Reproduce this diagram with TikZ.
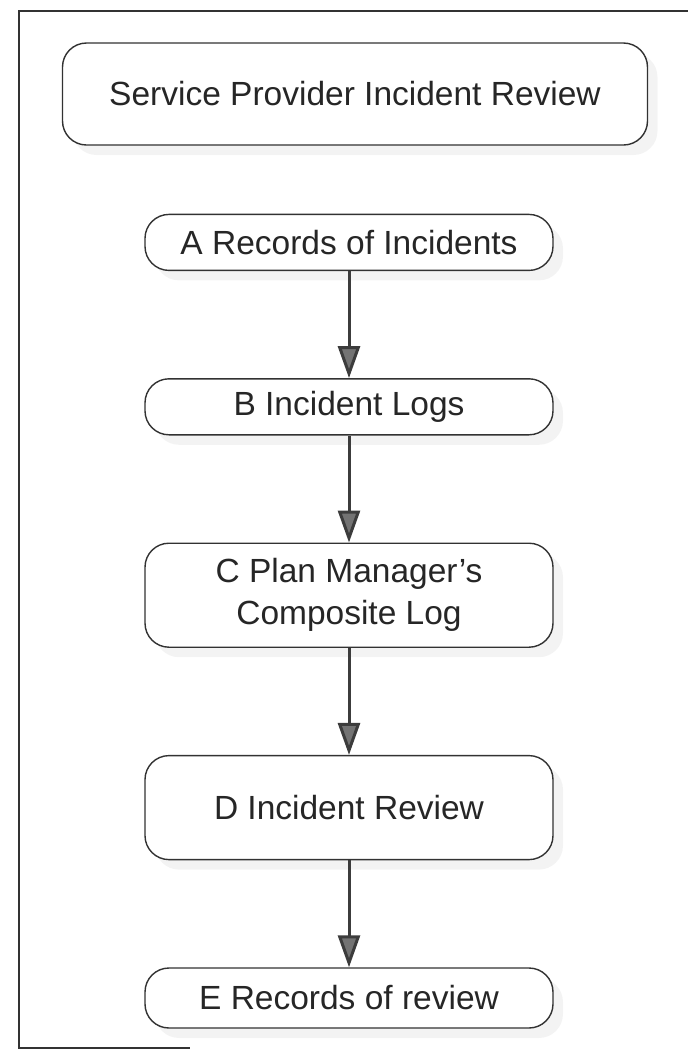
\documentclass[tikz,border=0pt]{standalone}
\usepackage{fontspec}
\setmainfont{Liberation Sans}
\usetikzlibrary{positioning,arrows.meta,shadows}
\definecolor{boxline}{RGB}{50,50,50}
\definecolor{headgray}{RGB}{115,115,115}
\definecolor{shaftgray}{RGB}{60,60,60}
\tikzset{
  revbox/.style ={rectangle, rounded corners=12pt, draw=boxline, fill=white, line width=0.7pt,
                minimum width=204pt, minimum height=28pt, align=center, text=black!85,
                font=\fontsize{16.75}{21}\selectfont,
                drop shadow={shadow xshift=5pt, shadow yshift=-5pt, fill=black!9}},
  flow/.style ={-{Triangle[length=16pt, width=11pt, fill=headgray]}, line width=1.5pt, draw=shaftgray},
}
\begin{document}
\begin{tikzpicture}[node distance=53.5pt]
\useasboundingbox (0,0) rectangle (344pt,-525.5pt);
% page frame
\draw[line width=1pt, boxline] (344pt,-5.5pt) -- (9.5pt,-5.5pt) -- (9.5pt,-524pt) -- (95pt,-524pt);
\node[revbox, minimum width=292.5pt, minimum height=51pt] (title) at (177.5pt,-47pt) {Service Provider Incident Review};
\node[revbox, below=34pt of title, xshift=-3pt] (a) {A Records of Incidents};
\node[revbox, below=of a] (b) {B Incident Logs};
\node[revbox, below=of b, minimum height=52pt] (c) {C Plan Manager's\\ Composite Log};
\node[revbox, below=of c, minimum height=52pt] (d) {D Incident Review};
\node[revbox, below=of d, minimum height=30pt] (e) {E Records of review};
\foreach \x/\y in {a/b,b/c,c/d,d/e} \draw[flow] (\x) -- (\y);
\end{tikzpicture}
\end{document}
